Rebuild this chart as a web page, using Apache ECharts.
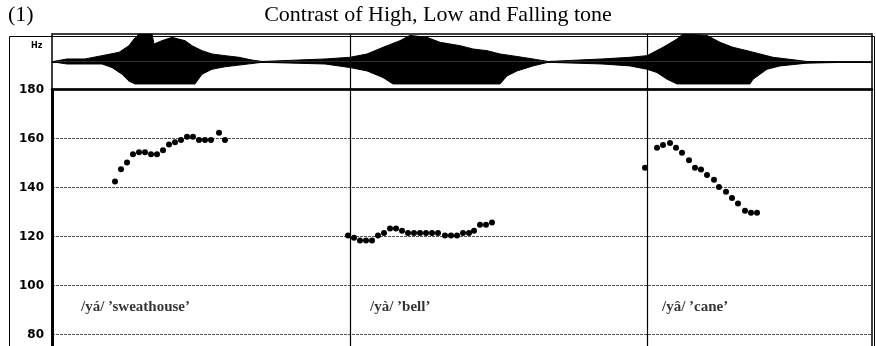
<!DOCTYPE html>
<html><head><meta charset="utf-8">
<script src="https://cdn.jsdelivr.net/npm/echarts@6/dist/echarts.min.js"></script>
<style>html,body{margin:0;padding:0;background:#fff}#c{width:876px;height:346px}</style>
</head><body><div id="c"></div>
<script>
// ---- data (time in ms, F0 in Hz) ----
const yTicks = [60, 80, 100, 120, 140, 160, 180];
const highT  = [63,69,75,81,87,93,99,105,111,117,123,129,135,141,147,153,159,167,173];
const highF0 = [142.4,147.5,150.2,153.6,154.4,154.4,153.6,153.6,155.2,157.6,158.5,159.4,160.7,160.7,159.4,159.4,159.4,162.3,159.4];
const lowT   = [296,302,308,314,320,326,332,338,344,350,356,362,368,374,380,386,393,399,405,411,417,422,428,434,440];
const lowF0  = [120.4,119.5,118.4,118.4,118.4,120.4,121.4,123.3,123.3,122.3,121.4,121.4,121.4,121.4,121.4,121.4,120.4,120.4,120.4,121.4,121.4,122.3,124.8,124.8,125.7];
const fallT  = [593,605,611,618,624,630,637,643,649,655,662,667,674,680,686,693,699,705];
const fallF0 = [148.1,156.2,157.3,158.2,156.2,154.2,151.1,148.1,147.3,145.1,143.2,140.2,138.3,135.7,133.5,130.5,129.7,129.7];
const dividerT = [298, 595];
const wordLabels = ["/yá/ \u2019sweathouse\u2019", "/yà/ \u2019bell\u2019", "/yâ/ \u2019cane\u2019"];
const wordT = [29, 318, 610];
const wordF0 = [91, 91, 91];
// waveform envelope (amplitude, % of full scale)
const upperT = [0,15,33,50,67,77,82,87,100,102,110,120,133,140,150,160,173,187,200,210, 273,298,315,331,348,358,375,388,408,421,435,448,465,481,496, 550,578,595,611,625,631,655,668,681,695,708,721,735,755,820];
const upperA = [0,10,10,22,34,58,82,100,100,64,76,88,76,58,40,28,22,16,6,1, 10,16,28,52,76,95,88,70,58,46,40,28,19,10,1, 10,16,22,52,82,100,95,70,52,40,28,16,10,1,0];
const lowerT = [0,15,50,60,70,77,83,117,143,150,160,173,187,210, 273,298,315,331,341,400,448,455,465,481,496, 550,578,595,605,615,625,698,701,715,728,755,820];
const lowerA = [0,-8,-8,-21,-45,-70,-80,-80,-80,-45,-27,-18,-12,-2, -8,-21,-33,-57,-80,-80,-80,-51,-33,-15,-2, -8,-15,-27,-39,-63,-80,-80,-63,-27,-15,-5,0];

const zip = (a, b) => a.map((v, i) => [v, b[i]]);
const chart = echarts.init(document.getElementById('c'));
const dotStyle = { color: '#000', opacity: 1 };
const divider = {
  silent: true, symbol: 'none', label: { show: false },
  lineStyle: { color: '#000', width: 1.2, type: 'solid' },
  data: dividerT.map(t => ({ xAxis: t }))
};
chart.setOption({
  animation: false,
  backgroundColor: '#fff',
  title: [
    { text: 'Contrast of High, Low and Falling tone', left: 'center', top: -1,
      textStyle: { fontFamily: 'Liberation Serif', fontSize: 22, fontWeight: 'normal', color: '#000' } },
    { text: '(1)', left: 3, top: -1,
      textStyle: { fontFamily: 'Liberation Serif', fontSize: 22, fontWeight: 'normal', color: '#000' } },
    { text: 'Hz', left: 26, top: 37,
      textStyle: { fontFamily: 'DejaVu Sans', fontSize: 8, fontWeight: 'bold', color: '#000' } }
  ],
  graphic: [{
    type: 'rect', left: 7, top: 34, silent: true,
    shape: { width: 865, height: 400 },
    style: { fill: 'none', stroke: '#000', lineWidth: 1 }
  }],
  grid: [
    { left: 52, right: 4, top: 34, height: 55.5, show: true, borderColor: '#000', borderWidth: 1.5,
      outerBoundsMode: 'none' },
    { left: 52, right: 4, top: 89.5, height: 294, show: true, borderColor: '#000', borderWidth: 1.5,
      outerBoundsMode: 'none' }
  ],
  xAxis: [
    { gridIndex: 0, type: 'value', min: 0, max: 820,
      axisLine: { show: true, onZero: true, lineStyle: { color: '#000', width: 1 } },
      axisTick: { show: false }, axisLabel: { show: false }, splitLine: { show: false } },
    { gridIndex: 1, type: 'value', min: 0, max: 820, position: 'top',
      axisLine: { show: true, onZero: false, lineStyle: { color: '#000', width: 2.5 } },
      axisTick: { show: false }, axisLabel: { show: false }, splitLine: { show: false } }
  ],
  yAxis: [
    { gridIndex: 0, type: 'value', min: -100, max: 100, show: false },
    { gridIndex: 1, type: 'value', min: yTicks[0], max: yTicks[yTicks.length - 1], interval: 20,
      axisLine: { show: true, lineStyle: { color: '#000', width: 3 } },
      axisTick: { show: false },
      axisLabel: { margin: 8, color: '#000', fontFamily: 'DejaVu Sans', fontWeight: 'bold', fontSize: 12,
        formatter: v => (yTicks.indexOf(v) > 0 ? String(v) : '') },
      splitLine: { show: true, lineStyle: { color: '#555', width: 1, type: [3, 1] } } }
  ],
  series: [
    { type: 'line', xAxisIndex: 0, yAxisIndex: 0, data: zip(upperT, upperA), symbol: 'none',
      lineStyle: { color: '#000', width: 1 }, areaStyle: { color: '#000', opacity: 1 }, markLine: divider },
    { type: 'line', xAxisIndex: 0, yAxisIndex: 0, data: zip(lowerT, lowerA), symbol: 'none',
      lineStyle: { color: '#000', width: 1 }, areaStyle: { color: '#000', opacity: 1 } },
    { type: 'scatter', xAxisIndex: 1, yAxisIndex: 1, data: zip(highT, highF0), symbolSize: 6, itemStyle: dotStyle, markLine: divider },
    { type: 'scatter', xAxisIndex: 1, yAxisIndex: 1, data: zip(lowT, lowF0), symbolSize: 6, itemStyle: dotStyle },
    { type: 'scatter', xAxisIndex: 1, yAxisIndex: 1, data: zip(fallT, fallF0), symbolSize: 6, itemStyle: dotStyle },
    { type: 'scatter', xAxisIndex: 1, yAxisIndex: 1, symbolSize: 0, silent: true,
      data: wordT.map((t, i) => ({ value: [t, wordF0[i]], name: wordLabels[i] })),
      label: { show: true, position: 'right', distance: 0, formatter: p => p.name,
        fontFamily: 'Liberation Serif', fontWeight: 'bold', fontSize: 15, color: '#000' } }
  ]
});
</script></body></html>
